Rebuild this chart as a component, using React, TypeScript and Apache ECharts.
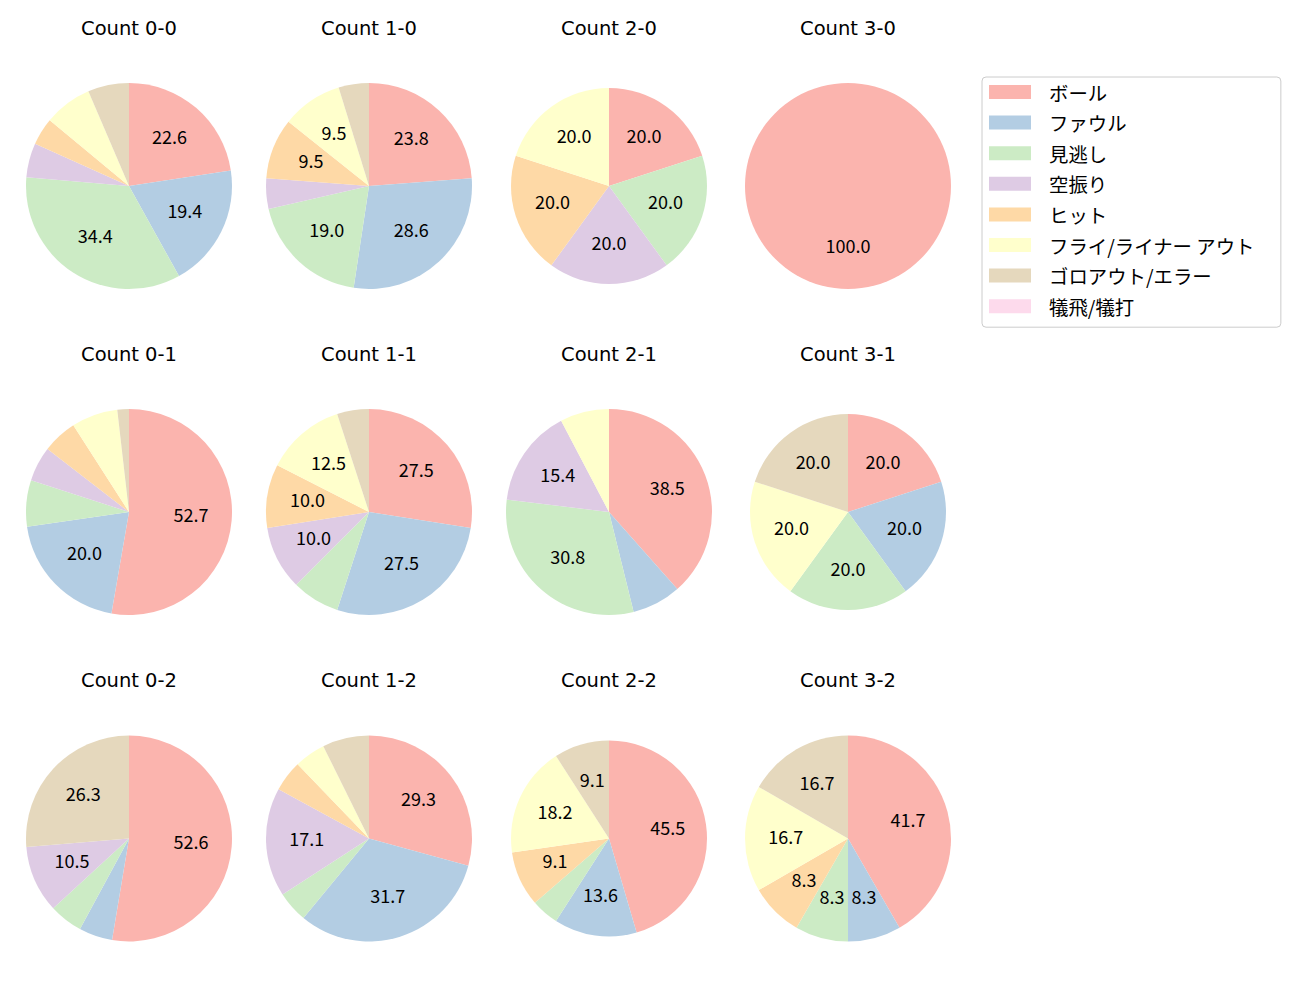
import React, { useEffect, useRef } from "react";
import * as echarts from "echarts";

const categories = [
  "ボール",
  "ファウル",
  "見逃し",
  "空振り",
  "ヒット",
  "フライ/ライナー アウト",
  "ゴロアウト/エラー",
  "犠飛/犠打",
];

const palette = ["#fbb4ae", "#b3cde3", "#ccebc5", "#decbe4", "#fed9a6", "#ffffcc", "#e5d8bd", "#fddaec"];

const countTitles = [
  "Count 0-0", "Count 1-0", "Count 2-0", "Count 3-0",
  "Count 0-1", "Count 1-1", "Count 2-1", "Count 3-1",
  "Count 0-2", "Count 1-2", "Count 2-2", "Count 3-2",
];

// counts per category, in the order of `categories`
const count00 = [21, 18, 32, 5, 4, 7, 6, 0];
const count10 = [10, 12, 8, 2, 4, 4, 2, 0];
const count20 = [1, 0, 1, 1, 1, 1, 0, 0];
const count30 = [1, 0, 0, 0, 0, 0, 0, 0];
const count01 = [29, 11, 4, 3, 3, 4, 1, 0];
const count11 = [11, 11, 3, 4, 4, 5, 2, 0];
const count21 = [5, 1, 4, 2, 0, 1, 0, 0];
const count31 = [1, 1, 1, 0, 0, 1, 1, 0];
const count02 = [10, 1, 1, 2, 0, 0, 5, 0];
const count12 = [12, 13, 2, 7, 2, 2, 3, 0];
const count22 = [10, 3, 1, 0, 2, 4, 2, 0];
const count32 = [5, 1, 1, 0, 1, 2, 2, 0];

const pies = [
  count00, count10, count20, count30,
  count01, count11, count21, count31,
  count02, count12, count22, count32,
];

// layout (not data)
const colCenters = [129, 369, 609, 848];
const rowCenters = [186, 512, 838.5];
const radii = [103, 103, 98, 103, 103, 103, 103, 98, 103, 103, 98, 103];
const titleOffset = 158;
const FONT = "'Noto Sans CJK JP', 'DejaVu Sans', sans-serif";
const TITLE_FONT = "'DejaVu Sans', sans-serif";

export default function App() {
  const ref = useRef<HTMLDivElement>(null);
  useEffect(() => {
    if (!ref.current) return;
    const chart = echarts.init(ref.current, null, { renderer: "svg" });
    const series: any[] = [];
    const graphics: any[] = [];
    pies.forEach((vals, i) => {
      const cx = colCenters[i % 4];
      const cy = rowCenters[Math.floor(i / 4)];
      const r = radii[i];
      const total = vals.reduce((a, b) => a + b, 0);
      const baseData = categories.map((name, k) => ({
        name,
        value: vals[k],
        itemStyle: { color: palette[k] },
      }));
      const labelData = categories.map((name, k) => ({
        name,
        value: vals[k],
        itemStyle: { color: "rgba(0,0,0,0)" },
      }));
      series.push({
        type: "pie",
        center: [cx, cy],
        radius: [0, r],
        startAngle: 90,
        clockwise: true,
        data: baseData,
        label: { show: false },
        labelLine: { show: false },
        itemStyle: { borderWidth: 0 },
        emphasis: { disabled: true },
        silent: true,
      });
      series.push({
        type: "pie",
        center: [cx, cy],
        radius: [0.15 * r, r],
        startAngle: 90,
        clockwise: true,
        data: labelData,
        legendHoverLink: false,
        label: {
          show: true,
          position: "inside",
          color: "#000",
          fontSize: 18,
          fontFamily: FONT,
          formatter: (p: any) => {
            const pct = (p.value / total) * 100;
            return pct >= 8 ? pct.toFixed(1) : "";
          },
        },
        labelLayout: { dy: -3 },
        labelLine: { show: false },
        itemStyle: { borderWidth: 0 },
        emphasis: { disabled: true },
        silent: true,
      });
      graphics.push({
        type: "text",
        x: cx,
        y: cy - titleOffset,
        style: {
          text: countTitles[i],
          align: "center",
          verticalAlign: "middle",
          fontSize: 19.5,
          fontFamily: TITLE_FONT,
          fill: "#000",
        },
      });
    });
    chart.setOption({
      animation: false,
      backgroundColor: "#ffffff",
      color: palette,
      legend: {
        orient: "vertical",
        left: 982,
        top: 77,
        padding: [5, 26, 11, 7],
        itemWidth: 42,
        itemHeight: 14,
        itemGap: 10.6,
        icon: "rect",
        borderColor: "#cccccc",
        borderWidth: 1,
        borderRadius: 4,
        backgroundColor: "#ffffff",
        selectedMode: false,
        textStyle: {
          fontSize: 19.4,
          lineHeight: 20,
          color: "#000",
          fontFamily: FONT,
          padding: [0, 0, 0, 13],
        },
        data: categories,
      },
      graphic: graphics,
      series,
    });
    return () => chart.dispose();
  }, []);
  return (
    <div
      ref={ref}
      style={{ position: "fixed", left: 0, top: 0, width: 1300, height: 1000, background: "#fff" }}
    />
  );
}
